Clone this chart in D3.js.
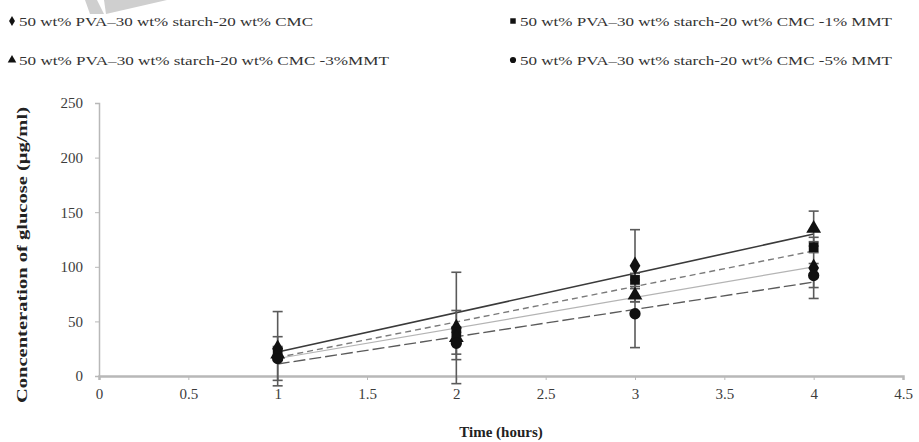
<!DOCTYPE html>
<html>
<head>
<meta charset="utf-8">
<script src="https://cdn.jsdelivr.net/npm/d3@7"></script>
<style>
body { margin:0; background:#fff; }
text { font-family: "Liberation Serif", "Times New Roman", serif; }
</style>
</head>
<body>
<svg id="graph"></svg>
<script>
// data
var hours = [1, 2, 3, 4];
var seriesNames = [
    "50 wt% PVA\u201330 wt% starch-20 wt% CMC",
    "50 wt% PVA\u201330 wt% starch-20 wt% CMC -1% MMT",
    "50 wt% PVA\u201330 wt% starch-20 wt% CMC -3%MMT",
    "50 wt% PVA\u201330 wt% starch-20 wt% CMC -5% MMT"
];
var plainValues = [25, 44, 101, 99];
var mmt1Values = [22, 40, 88, 118];
var mmt3Values = [20, 35, 74, 135];
var mmt5Values = [16, 30, 57, 92];
var plainErr = [34, 51, 33, 28];
var mmt1Err = [5, 20, 6, 5];
var mmt3Err = [5, 5, 6, 16];
var mmt5Err = [20, 15, 31, 11];
// linear trend lines (slope, intercept) as shown on the chart
var trendSlope = [28, 32.5, 36, 25];
var trendIntercept = [-12, -15.5, -14, -14];
var xTicks = [0, 0.5, 1, 1.5, 2, 2.5, 3, 3.5, 4, 4.5];
var yTicks = [0, 50, 100, 150, 200, 250];

var values = [plainValues, mmt1Values, mmt3Values, mmt5Values];
var errs = [plainErr, mmt1Err, mmt3Err, mmt5Err];
var symbols = [d3.symbolDiamond, d3.symbolSquare, d3.symbolTriangle, d3.symbolCircle];
var symSize = [100, 95, 95, 100];
var lineStyle = [
    {stroke:"#b4b4b4", width:1.2, dash:null},
    {stroke:"#7a7a7a", width:1.4, dash:"6,4"},
    {stroke:"#3a3a3a", width:1.6, dash:null},
    {stroke:"#5a5a5a", width:1.4, dash:"12,4"}
];

var screen = {width:919, height:442};
var svg = d3.select("#graph")
    .attr("width", screen.width)
    .attr("height", screen.height);

// faint watermark shape at the top
svg.append("polygon")
    .attr("points", "85,0 97,0 104,14 90,14")
    .attr("fill", "#cfcfcf");
svg.append("polygon")
    .attr("points", "104,0 167,0 106,14")
    .attr("fill", "#cfcfcf");

var xScale = d3.scaleLinear().domain([0, 4.5]).range([99, 903]);
var yScale = d3.scaleLinear().domain([0, 250]).range([376, 103]);

// axes
var xAxis = d3.axisBottom(xScale).tickValues(xTicks).tickSize(4).tickPadding(8)
    .tickFormat(function(d){ return d; });
var yAxis = d3.axisLeft(yScale).tickValues(yTicks).tickSize(4).tickPadding(12);

var gx = svg.append("g").attr("transform", "translate(0,376)").call(xAxis);
var gy = svg.append("g").attr("transform", "translate(99,0)").call(yAxis);
gx.attr("font-family", null);
gy.attr("font-family", null);
gx.select(".domain").attr("stroke", "#b8b8b8").attr("stroke-width", 2.5);
gy.select(".domain").attr("stroke", "#b8b8b8").attr("stroke-width", 1.5);
[gx, gy].forEach(function(g){
    g.selectAll(".tick line").attr("stroke", "#b8b8b8");
    g.selectAll(".tick text")
        .attr("fill", "#3c3c3c")
        .style("font-size", "15px");
});

// trend lines
var plot = svg.append("g");
lineStyle.forEach(function(st, i){
    var line = d3.line()
        .x(function(h){ return xScale(h); })
        .y(function(h){ return yScale(trendSlope[i] * h + trendIntercept[i]); });
    plot.append("path")
        .datum([hours[0], hours[hours.length - 1]])
        .attr("d", line)
        .attr("fill", "none")
        .attr("stroke", st.stroke)
        .attr("stroke-width", st.width)
        .attr("stroke-dasharray", st.dash);
});

// error bars
values.forEach(function(vals, i){
    var g = plot.append("g");
    hours.forEach(function(h, j){
        var x = xScale(h), lo = yScale(vals[j] - errs[i][j]), hi = yScale(vals[j] + errs[i][j]);
        g.append("line").attr("x1", x).attr("x2", x).attr("y1", lo).attr("y2", hi)
            .attr("stroke", "#5a5a5a").attr("stroke-width", 1.6);
        [lo, hi].forEach(function(yy){
            g.append("line").attr("x1", x - 5).attr("x2", x + 5).attr("y1", yy).attr("y2", yy)
                .attr("stroke", "#5a5a5a").attr("stroke-width", 1.6);
        });
    });
});

// markers
values.forEach(function(vals, i){
    plot.selectAll(".m" + i)
        .data(vals)
        .enter()
        .append("path")
        .attr("d", d3.symbol().type(symbols[i]).size(symSize[i]))
        .attr("transform", function(v, j){ return "translate(" + xScale(hours[j]) + "," + yScale(v) + ")"; })
        .attr("fill", "#111");
});

// legend
var legendPos = [
    {x:12, y:22, len:294},
    {x:513, y:22, len:372},
    {x:12, y:61, len:370},
    {x:513, y:61, len:372}
];
legendPos.forEach(function(p, i){
    svg.append("path")
        .attr("d", d3.symbol().type(symbols[i]).size(i == 2 ? 32 : 30))
        .attr("transform", "translate(" + p.x + "," + (p.y - 1) + ")")
        .attr("fill", "#111");
    svg.append("text")
        .text(seriesNames[i])
        .attr("x", p.x + 7)
        .attr("y", p.y + 4)
        .attr("textLength", p.len)
        .attr("lengthAdjust", "spacingAndGlyphs")
        .attr("fill", "#333")
        .style("font-size", "13px");
});

// axis titles
svg.append("text")
    .text("Time (hours)")
    .attr("x", 501)
    .attr("y", 437)
    .attr("text-anchor", "middle")
    .attr("font-weight", "bold")
    .attr("fill", "#222")
    .style("font-size", "15px");

svg.append("g")
    .attr("transform", "translate(27,255)")
    .append("text")
    .text("Concenteration of glucose (\u03bcg/ml)")
    .attr("transform", "rotate(-90)")
    .attr("text-anchor", "middle")
    .attr("textLength", 296)
    .attr("lengthAdjust", "spacingAndGlyphs")
    .attr("font-weight", "bold")
    .attr("fill", "#222")
    .style("font-size", "15px");
</script>
</body>
</html>
